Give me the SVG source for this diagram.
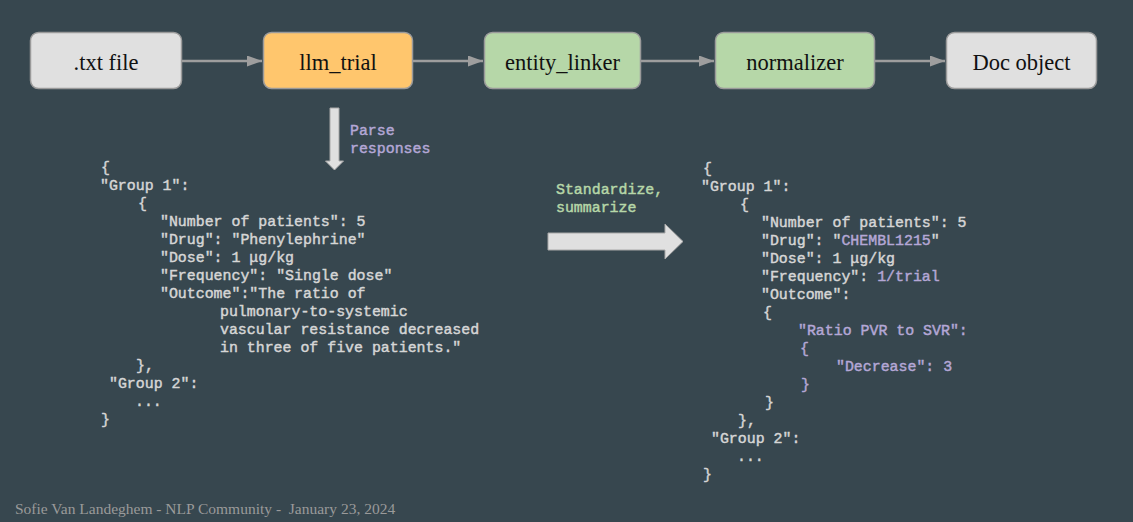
<svg xmlns="http://www.w3.org/2000/svg" width="1133" height="522" viewBox="0 0 1133 522">
<defs>
<style>
.node{stroke:#9a9a9a;stroke-width:1.5}
.grey{fill:#e0e0e0}
.orange{fill:#ffc66d}
.green{fill:#b6d7a8}
.lbl{font-family:"Liberation Serif",serif;font-size:22.5px;fill:#111;text-anchor:middle}
.edge{stroke:#9e9e9e;stroke-width:2.5;fill:none}
.code{font-family:"Liberation Mono","Courier New",monospace;font-size:14.9px;font-weight:normal;fill:#d6d6d6;stroke:#d6d6d6;stroke-width:0.45}
.pur{fill:#b4a7d6;stroke:#b4a7d6}
.grn{fill:#b6d7a8;stroke:#b6d7a8}
.blk{fill:#e0e0e0;stroke:#a8a8a8;stroke-width:1}
</style>
<marker id="ah" markerWidth="15" markerHeight="11" refX="15" refY="5.5" orient="auto" markerUnits="userSpaceOnUse">
<path d="M0,0 L15,5.5 L0,11 Z" fill="#9e9e9e"/>
</marker>
</defs>
<rect width="1133" height="522" fill="#37474f"/>
<g id="connectors">
<line class="edge" x1="182" y1="61" x2="262" y2="61" marker-end="url(#ah)"/>
<line class="edge" x1="413" y1="61" x2="483" y2="61" marker-end="url(#ah)"/>
<line class="edge" x1="641" y1="61" x2="714" y2="61" marker-end="url(#ah)"/>
<line class="edge" x1="875" y1="61" x2="945" y2="61" marker-end="url(#ah)"/>
</g>
<g id="node-txt"><rect class="node grey" x="30.5" y="32.5" width="151" height="56" rx="8"/><text class="lbl" x="106" y="70">.txt file</text></g>
<g id="node-llm"><rect class="node orange" x="263.5" y="32.5" width="149" height="56" rx="8"/><text class="lbl" x="338" y="70">llm_trial</text></g>
<g id="node-entity"><rect class="node green" x="484.5" y="32.5" width="156" height="56" rx="8"/><text class="lbl" x="562.5" y="70">entity_linker</text></g>
<g id="node-norm"><rect class="node green" x="715.5" y="32.5" width="159" height="56" rx="8"/><text class="lbl" x="795" y="70">normalizer</text></g>
<g id="node-doc"><rect class="node grey" x="946.5" y="32.5" width="150" height="56" rx="8"/><text class="lbl" x="1021.5" y="70">Doc object</text></g>
<g id="arrow-parse">
<path class="blk" d="M330,108 H339 V161 H343.5 L334.5,170 L325.5,161 H330 Z"/>
<text class="code pur" x="350" y="135">Parse</text>
<text class="code pur" x="350" y="153">responses</text>
</g>
<g id="arrow-standardize">
<path class="blk" d="M548,233 H665 V224 L683,241.5 L665,259 V250 H548 Z"/>
<text class="code grn" x="556" y="194">Standardize,</text>
<text class="code grn" x="556" y="212">summarize</text>
</g>
<g id="json-left" class="code">
<text x="101" y="172">{</text>
<text x="100" y="190">"Group 1":</text>
<text x="138" y="208">{</text>
<text x="160" y="226">"Number of patients": 5</text>
<text x="160" y="244">"Drug": "Phenylephrine"</text>
<text x="160" y="262">"Dose": 1 μg/kg</text>
<text x="160" y="280">"Frequency": "Single dose"</text>
<text x="160" y="298">"Outcome":"The ratio of</text>
<text x="220" y="316">pulmonary-to-systemic</text>
<text x="220" y="334">vascular resistance decreased</text>
<text x="220" y="352">in three of five patients."</text>
<text x="136" y="370">},</text>
<text x="109" y="388">"Group 2":</text>
<text x="135" y="406">...</text>
<text x="101" y="424">}</text>
</g>
<g id="json-right" class="code">
<text x="703" y="173">{</text>
<text x="701" y="191">"Group 1":</text>
<text x="740" y="209">{</text>
<text x="761" y="227">"Number of patients": 5</text>
<text x="761" y="245">"Drug": "<tspan class="pur">CHEMBL1215</tspan>"</text>
<text x="761" y="263">"Dose": 1 μg/kg</text>
<text x="761" y="281">"Frequency": <tspan class="pur">1/trial</tspan></text>
<text x="761" y="299">"Outcome":</text>
<text x="763" y="317">{</text>
<text class="pur" x="798" y="335">"Ratio PVR to SVR":</text>
<text class="pur" x="800" y="353">{</text>
<text class="pur" x="836" y="371">"Decrease": 3</text>
<text class="pur" x="801" y="389">}</text>
<text x="765" y="407">}</text>
<text x="738" y="425">},</text>
<text x="711" y="443">"Group 2":</text>
<text x="737" y="461">...</text>
<text x="703" y="479">}</text>
</g>
<text x="15" y="514" font-family="Liberation Serif, serif" font-size="15.5" fill="#9a9a9a" xml:space="preserve">Sofie Van Landeghem - NLP Community -  January 23, 2024</text>
</svg>
